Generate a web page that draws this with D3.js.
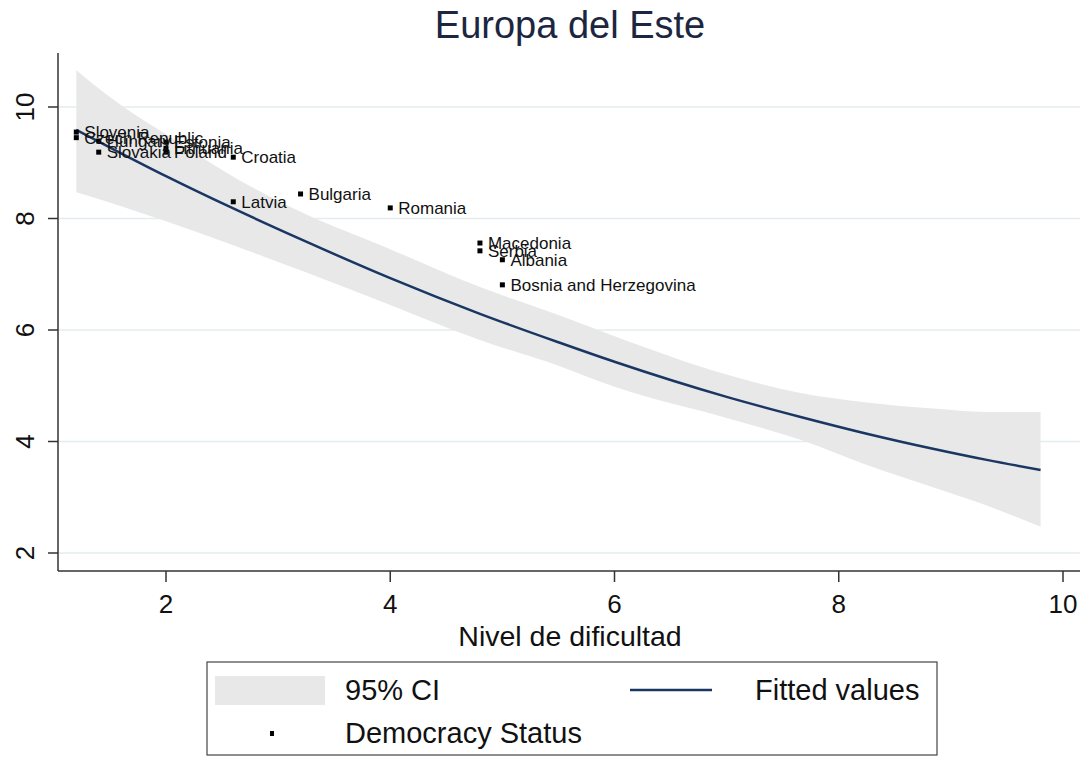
<!DOCTYPE html>
<html>
<head>
<meta charset="utf-8">
<script src="https://cdn.jsdelivr.net/npm/d3@7"></script>
<style>
  body { margin: 0; background: #fff; }
  text { font-family: 'Liberation Sans', Arial, sans-serif; }
</style>
</head>
<body>
<div class="chart"></div>
<script>
//Data
const countries = ['Slovenia', 'Czech Republic', 'Hungary', 'Slovakia', 'Estonia', 'Lithuania', 'Poland',
    'Croatia', 'Latvia', 'Bulgaria', 'Romania', 'Macedonia', 'Serbia', 'Albania', 'Bosnia and Herzegovina'];
const difficulty = [1.2, 1.2, 1.4, 1.4, 2.0, 2.0, 2.0, 2.6, 2.6, 3.2, 4.0, 4.8, 4.8, 5.0, 5.0];
const democracy = [9.55, 9.45, 9.39, 9.19, 9.37, 9.26, 9.19, 9.10, 8.30, 8.44, 8.19, 7.56, 7.42, 7.26, 6.81];

//Fitted values and 95% CI
const fitX = [1.2, 1.6, 2.0, 2.6, 3.2, 4.0, 4.8, 5.5, 6.0, 7.0, 7.66, 8.25, 8.84, 9.32, 9.8];
const fitY = [9.59, 9.17, 8.76, 8.18, 7.63, 6.93, 6.29, 5.78, 5.43, 4.80, 4.44, 4.14, 3.87, 3.67, 3.49];
const ciHigh = [10.66, 10.03, 9.51, 8.75, 8.12, 7.45, 6.77, 6.27, 5.89, 5.20, 4.87, 4.70, 4.59, 4.53, 4.53];
const ciLow = [8.47, 8.22, 7.95, 7.52, 7.07, 6.45, 5.82, 5.36, 4.98, 4.42, 4.03, 3.58, 3.18, 2.85, 2.47];

const xTicks = [2, 4, 6, 8, 10];
const yTicks = [2, 4, 6, 8, 10];

const WIDTH = 1091;
const HEIGHT = 758;
const NAVY = '#1a3763';

let svg = d3.select('.chart')
.append('svg')
.attr('width', WIDTH)
.attr('height', HEIGHT);

//Scales
const xScale = d3.scaleLinear().domain([2, 10]).range([166, 1063]);
const yScale = d3.scaleLinear().domain([2, 10]).range([553, 107]);
const plotLeft = 58, plotRight = 1080, plotTop = 53, plotBottom = 571;

//Gridlines
svg.append('g')
.selectAll()
.data(yTicks)
.enter()
.append('line')
.attr('x1', plotLeft)
.attr('x2', plotRight)
.attr('y1', d => yScale(d))
.attr('y2', d => yScale(d))
.style('stroke', '#e3ecee')
.style('stroke-width', 1.5);

//CI band
let fitData = fitX.map((x, i) => ({x: x, y: fitY[i], lo: ciLow[i], hi: ciHigh[i]}));

const area = d3.area()
.x(d => xScale(d.x))
.y0(d => yScale(d.lo))
.y1(d => yScale(d.hi))
.curve(d3.curveMonotoneX);

svg.append('path')
.datum(fitData)
.attr('d', area)
.style('fill', '#e8e8e8');

//Fitted line
const line = d3.line()
.x(d => xScale(d.x))
.y(d => yScale(d.y))
.curve(d3.curveMonotoneX);

svg.append('path')
.datum(fitData)
.attr('d', line)
.style('fill', 'none')
.style('stroke', NAVY)
.style('stroke-width', 2.5);

//Points and labels
let points = countries.map((name, i) => ({name: name, x: difficulty[i], y: democracy[i]}));

svg.append('g')
.selectAll()
.data(points)
.enter()
.append('rect')
.attr('x', d => xScale(d.x) - 2.5)
.attr('y', d => yScale(d.y) - 2.5)
.attr('width', 5)
.attr('height', 5)
.style('fill', '#000');

svg.append('g')
.selectAll()
.data(points)
.enter()
.append('text')
.attr('x', d => xScale(d.x) + 8)
.attr('y', d => yScale(d.y) + 6)
.style('font-size', '17px')
.style('fill', '#111')
.text(d => d.name);

//Axes
svg.append('line')
.attr('x1', plotLeft).attr('x2', plotLeft)
.attr('y1', plotTop).attr('y2', plotBottom)
.style('stroke', '#333').style('stroke-width', 1.5);

svg.append('line')
.attr('x1', plotLeft).attr('x2', plotRight)
.attr('y1', plotBottom).attr('y2', plotBottom)
.style('stroke', '#333').style('stroke-width', 1.5);

svg.append('g')
.selectAll()
.data(xTicks)
.enter()
.append('line')
.attr('x1', d => xScale(d)).attr('x2', d => xScale(d))
.attr('y1', plotBottom).attr('y2', plotBottom + 11)
.style('stroke', '#333').style('stroke-width', 1.5);

svg.append('g')
.selectAll()
.data(xTicks)
.enter()
.append('text')
.attr('x', d => xScale(d))
.attr('y', 613)
.attr('text-anchor', 'middle')
.style('font-size', '26px')
.style('fill', '#111')
.text(d => d);

svg.append('g')
.selectAll()
.data(yTicks)
.enter()
.append('line')
.attr('x1', plotLeft - 10).attr('x2', plotLeft)
.attr('y1', d => yScale(d)).attr('y2', d => yScale(d))
.style('stroke', '#333').style('stroke-width', 1.5);

svg.append('g')
.selectAll()
.data(yTicks)
.enter()
.append('text')
.attr('transform', d => `translate(34,${yScale(d)}) rotate(-90)`)
.attr('text-anchor', 'middle')
.style('font-size', '26px')
.style('fill', '#111')
.text(d => d);

//Titles
svg.append('text')
.attr('x', 570)
.attr('y', 646)
.attr('text-anchor', 'middle')
.style('font-size', '28.5px')
.style('fill', '#111')
.text('Nivel de dificultad');

svg.append('text')
.attr('x', 570)
.attr('y', 38)
.attr('text-anchor', 'middle')
.style('font-size', '38px')
.style('fill', '#1c2640')
.text('Europa del Este');

//Legend
let legend = svg.append('g');

legend.append('rect')
.attr('x', 207).attr('y', 662)
.attr('width', 730).attr('height', 93)
.style('fill', '#fff')
.style('stroke', '#444')
.style('stroke-width', 1.2);

legend.append('rect')
.attr('x', 215).attr('y', 676)
.attr('width', 110).attr('height', 29)
.style('fill', '#e8e8e8');

legend.append('line')
.attr('x1', 630).attr('x2', 712)
.attr('y1', 690).attr('y2', 690)
.style('stroke', NAVY).style('stroke-width', 2.5);

legend.append('rect')
.attr('x', 270).attr('y', 731)
.attr('width', 4).attr('height', 5)
.style('fill', '#000');

const legendItems = [
    {label: '95% CI', x: 345, y: 700},
    {label: 'Fitted values', x: 755, y: 700},
    {label: 'Democracy Status', x: 345, y: 743}
];

legend.selectAll()
.data(legendItems)
.enter()
.append('text')
.attr('x', d => d.x)
.attr('y', d => d.y)
.style('font-size', '29px')
.style('fill', '#111')
.text(d => d.label);
</script>
</body>
</html>
